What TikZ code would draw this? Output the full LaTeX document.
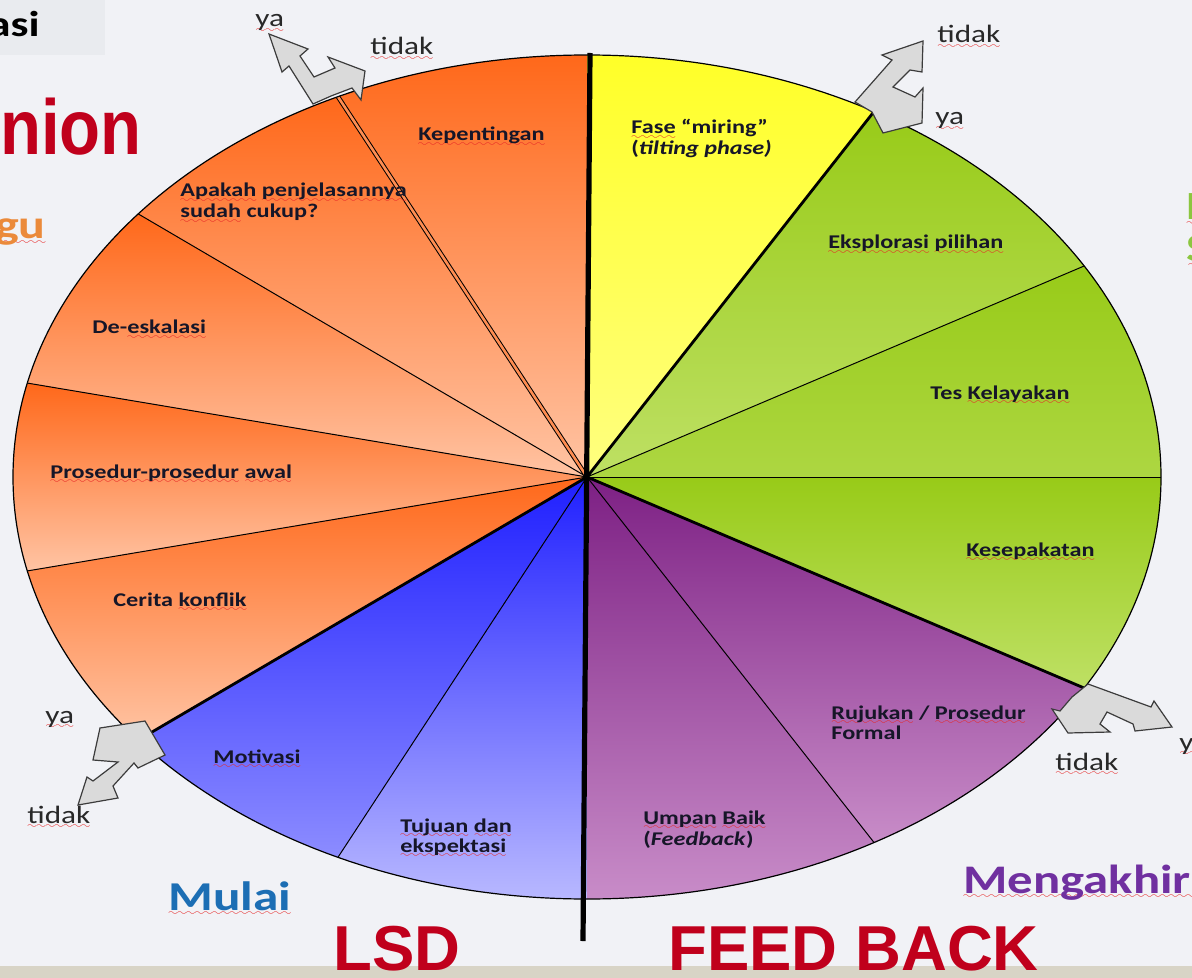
\documentclass[tikz,border=0pt]{standalone}
\usepackage{fontspec}
\setmainfont{Carlito}
\newfontfamily\lab[FakeStretch=1.25]{Carlito}
\newfontfamily\arl{Liberation Sans}
\definecolor{bg}{RGB}{241,242,246}
\definecolor{boxbg}{RGB}{233,235,239}
\definecolor{txt}{RGB}{22,22,40}
\definecolor{yntxt}{RGB}{40,40,40}
\definecolor{wavy}{RGB}{230,40,40}
\definecolor{arrfill}{RGB}{218,218,218}
\definecolor{arrline}{RGB}{60,60,60}
\definecolor{orTop}{RGB}{255,104,26}
\definecolor{orBot}{RGB}{255,196,164}
\definecolor{blTop}{RGB}{32,32,255}
\definecolor{blBotA}{RGB}{140,140,255}
\definecolor{blBotB}{RGB}{184,184,255}
\definecolor{puTop}{RGB}{125,32,132}
\definecolor{puBot}{RGB}{200,140,200}
\definecolor{grTop}{RGB}{152,203,24}
\definecolor{grBot}{RGB}{190,224,100}
\definecolor{yeTop}{RGB}{255,255,40}
\definecolor{yeBot}{RGB}{255,255,128}
\definecolor{redt}{RGB}{192,0,28}
\definecolor{bluet}{RGB}{28,110,180}
\definecolor{purt}{RGB}{112,48,160}
\definecolor{orant}{RGB}{235,138,58}
\definecolor{greent}{RGB}{140,198,63}
\definecolor{barc}{RGB}{216,212,198}
\font\wavefont=lasy6 at 5pt
\newcommand\sq[1]{\setbox0=\hbox{#1}\rlap{\raisebox{-2.6pt}[0pt][0pt]{\hbox to \wd0{\color{wavy}\xleaders\hbox{\wavefont\char58}\hfill}}}\box0\relax}
\newcommand\sector[3]{\shade[#3] (C) -- plot[domain=#1:#2,samples=40] ({587+574*cos(\x)},{477+422*sin(\x)}) -- cycle;}
\begin{document}
\begin{tikzpicture}[x=0.5pt,y=-0.5pt,
  lbl/.style={inner sep=0pt, font=\lab\bfseries\fontsize{9.7}{11}\selectfont, text=txt, anchor=base west},
  yn/.style={inner sep=0pt, font=\lab\fontsize{12.5}{14}\selectfont, text=yntxt, anchor=base west},
  arr/.style={fill=arrfill, draw=arrline, line width=0.6pt, line join=miter},
  septhin/.style={line width=0.5pt},
  septhick/.style={line width=1.4pt}]
\useasboundingbox (0,0) rectangle (1192,978);
\fill[bg] (0,0) rectangle (1192,978);
\fill[boxbg] (0,0) rectangle (105,55);
\fill[barc] (0,966) rectangle (1192,978);
\coordinate (C) at (587,477);
% sectors
\sector{-115.71}{-90}{top color=orTop, bottom color=orBot}
\sector{-141.43}{-115.71}{top color=orTop, bottom color=orBot}
\sector{-167.14}{-141.43}{top color=orTop, bottom color=orBot}
\sector{167.14}{192.86}{top color=orTop, bottom color=orBot}
\sector{141.43}{167.14}{top color=orTop, bottom color=orBot}
\sector{115.71}{141.43}{top color=blTop, bottom color=blBotA}
\sector{90}{115.71}{top color=blTop, bottom color=blBotB}
\sector{60}{90}{top color=puTop, bottom color=puBot}
\sector{30}{60}{top color=puTop, bottom color=puBot}
\sector{0}{30}{top color=grTop, bottom color=grBot}
\sector{-30}{0}{top color=grTop, bottom color=grBot!55!grTop}
\sector{-60}{-30}{top color=grTop, bottom color=grBot}
\sector{-90}{-60}{top color=yeTop, bottom color=yeBot}
% boundary points
\coordinate (e1) at ({587+574*cos(-115.71)},{477+422*sin(-115.71)});
\coordinate (e2) at ({587+574*cos(-141.43)},{477+422*sin(-141.43)});
\coordinate (e3) at ({587+574*cos(-167.14)},{477+422*sin(-167.14)});
\coordinate (e4) at ({587+574*cos(167.14)},{477+422*sin(167.14)});
\coordinate (e5) at ({587+574*cos(141.43)},{477+422*sin(141.43)});
\coordinate (e6) at ({587+574*cos(115.71)},{477+422*sin(115.71)});
\coordinate (e7) at ({587+574*cos(60)},{477+422*sin(60)});
\coordinate (e8) at ({587+574*cos(30)},{477+422*sin(30)});
\coordinate (e9) at ({587+574*cos(0)},{477+422*sin(0)});
\coordinate (e10) at ({587+574*cos(-30)},{477+422*sin(-30)});
\coordinate (e11) at ({587+574*cos(-60)},{477+422*sin(-60)});
\coordinate (vt) at (590,53);
\coordinate (vb) at (583,941);
\draw[septhin] (C) -- (e2);
\draw[septhin] (C) -- (e3);
\draw[septhin] (C) -- (e4);
\draw[septhin] (C) -- (e6);
\draw[septhin] (C) -- (e7);
\draw[septhin] (C) -- (e9);
\draw[septhin] (C) -- (e10);
\draw[septhick] (C) -- (e5);
\draw[septhick] (C) -- (e8);
\draw[septhick] (C) -- (e11);
\draw[line width=0.5pt, double=orTop!60!orBot, double distance=1.3pt] (C) -- (e1);
\draw[line width=0.6pt] (C) ellipse [x radius=287pt, y radius=211pt];
\draw[line width=2.6pt] (vt) -- (vb);
% arrows (traced outlines)
\filldraw[arr] (269,34) -- (308,49) -- (300,56) -- (314,77) -- (335,68) -- (328,57) -- (365,71) -- (361,100) -- (352,88) -- (331,96) -- (313,104) -- (289,66) -- (282,72) -- cycle;
\filldraw[arr] (855,102) -- (892,60) -- (882,55) -- (923,41) -- (922,72) -- (910,70) -- (893,87) -- (915,97) -- (923,88) -- (922,123) -- (883,133) -- (872,112) -- cycle;
\filldraw[arr] (100,728) -- (145,721) -- (165,755) -- (138,768) -- (134,763) -- (113,786) -- (118,798) -- (78,805) -- (87,777) -- (93,781) -- (118,762) -- (93,760) -- cycle;
\filldraw[arr] (1088,684) -- (1151,707) -- (1154,701) -- (1172,727) -- (1135,731) -- (1133,724) -- (1107,712) -- (1100,724) -- (1110,732) -- (1068,733) -- (1052,709) -- (1060,711) -- (1072,697) -- cycle;
% sector labels
\node[lbl] (kep) at (418,141) {\sq{Kepentingan}};
\node[lbl] (apa1) at (180,197) {\sq{Apakah} \sq{penjelasannya}};
\node[lbl] (apa2) at (180,218) {\sq{sudah} cukup?};
\node[lbl] (dee) at (92,334) {De-\sq{eskalasi}};
\node[lbl] (pro) at (50,478) {\sq{Prosedur-prosedur} \sq{awal}};
\node[lbl] (cer) at (113,606) {Cerita \sq{konflik}};
\node[lbl] (mot) at (213,763) {\sq{Motivasi}};
\node[lbl] (tuj1) at (400,832) {\sq{Tujuan} \sq{dan}};
\node[lbl] (tuj2) at (400,852) {\sq{ekspektasi}};
\node[lbl] (ump1) at (643,824) {\sq{Umpan} \sq{Baik}};
\node[lbl] (ump2) at (643,845) {(\textit{Feedback})};
\node[lbl] (ruj1) at (831,719) {\sq{Rujukan} / \sq{Prosedur}};
\node[lbl] (ruj2) at (831,739) {Formal};
\node[lbl] (kes) at (966,556) {\sq{Kesepakatan}};
\node[lbl] (tes) at (930,399) {Tes \sq{Kelayakan}};
\node[lbl] (eks) at (828,249) {\sq{Eksplorasi} \sq{pilihan}};
\node[lbl] (fas1) at (631,134) {\sq{Fase} “miring”};
\node[lbl] (fas2) at (631,155) {(\textit{tilting phase)}};
% ya / tidak
\node[yn] (ya1) at (255,27) {\sq{ya}};
\node[yn] (ti1) at (370,55) {\sq{tidak}};
\node[yn] (ti2) at (937,43) {\sq{tidak}};
\node[yn] (ya2) at (935,125) {\sq{ya}};
\node[yn] (ya3) at (45,723) {\sq{ya}};
\node[yn] (ti3) at (27,823) {\sq{tidak}};
\node[yn] (ti4) at (1055,770) {\sq{tidak}};
\node[yn] (ya4) at (1179,750) {\sq{ya}};
% big texts
\node[inner sep=0pt, anchor=base west, text=bluet, font=\lab\bfseries\fontsize{20.5}{22}\selectfont] (mulai) at (168,910) {\sq{Mulai}};
\node[inner sep=0pt, anchor=base west, text=purt, font=\lab\bfseries\fontsize{20.3}{22}\selectfont] (meng) at (963,893) {\sq{Mengakhiri}};
\node[inner sep=0pt, anchor=base west, text=redt, font=\arl\bfseries\fontsize{31.75}{34}\selectfont] (lsd) at (333,970) {LSD};
\node[inner sep=0pt, anchor=base west, text=redt, font=\arl\bfseries\fontsize{31.75}{34}\selectfont] (fb) at (668,970) {FEED BACK};
\node[inner sep=0pt, anchor=base east, text=redt, font=\arl\bfseries\fontsize{39}{41}\selectfont] (nion) at (142,155) {\scalebox{0.86}[1]{nion}};
\node[inner sep=0pt, anchor=base east, text=black, font=\lab\bfseries\fontsize{18}{20}\selectfont] (asi) at (40,37) {asi};
\node[inner sep=0pt, anchor=base east, text=orant, font=\lab\bfseries\fontsize{20}{22}\selectfont] (gu) at (46,239) {\sq{gu}};
\node[inner sep=0pt, anchor=base west, text=greent, font=\lab\bfseries\fontsize{20}{22}\selectfont] (rp) at (1186,220) {\sq{P}};
\node[inner sep=0pt, anchor=base west, text=greent, font=\lab\bfseries\fontsize{20}{22}\selectfont] (rs) at (1186,262) {\sq{S}};
\end{tikzpicture}
\end{document}
